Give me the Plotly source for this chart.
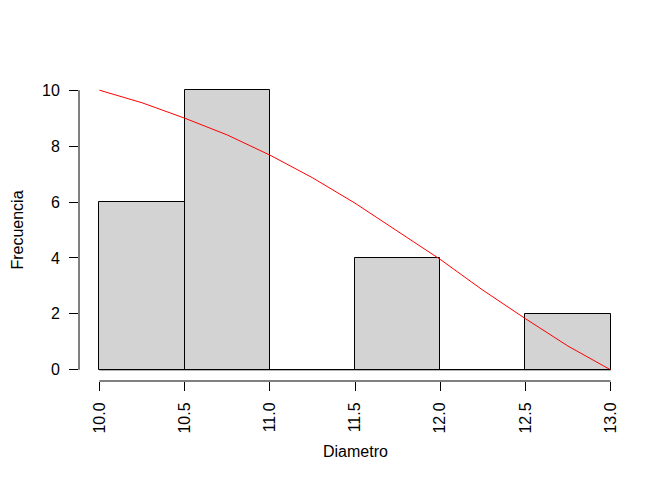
import plotly.graph_objects as go

# histogram of Diametro (bins of 0.5)
bin_edges = [10.0, 10.5, 11.0, 11.5, 12.0, 12.5, 13.0]
frecuencia = [6, 10, 0, 4, 0, 2]

# red curve
curva_x = [10.0, 10.25, 10.5, 10.75, 11.0, 11.25, 11.5, 11.75, 12.0, 12.25, 12.5, 12.75, 13.0]
curva_y = [10.0, 9.55, 9.0, 8.4, 7.68, 6.87, 5.96, 4.95, 3.95, 2.85, 1.83, 0.85, 0.0]

x_ticks = [10.0, 10.5, 11.0, 11.5, 12.0, 12.5, 13.0]
y_ticks = [0, 2, 4, 6, 8, 10]

centros = [(a + b) / 2 for a, b in zip(bin_edges[:-1], bin_edges[1:])]
anchos = [b - a for a, b in zip(bin_edges[:-1], bin_edges[1:])]

fnt = dict(family="Liberation Sans, Arial, sans-serif", size=16, color="black")

fig = go.Figure()
fig.add_trace(go.Bar(x=centros, y=frecuencia, width=anchos,
                     marker=dict(color="#D3D3D3", line=dict(color="black", width=1)),
                     showlegend=False, hoverinfo="skip"))
fig.add_trace(go.Scatter(x=curva_x, y=curva_y, mode="lines",
                         line=dict(color="red", width=1), showlegend=False))

# baseline under the empty bins, like R's hist
fig.add_shape(type="line", xref="x", yref="y", x0=bin_edges[0], x1=bin_edges[-1], y0=0, y1=0,
              line=dict(color="black", width=1))
# R style axis lines, only over the tick range
fig.add_shape(type="line", xref="x", yref="paper", x0=x_ticks[0], x1=x_ticks[-1], y0=0, y1=0,
              line=dict(color="black", width=1))
fig.add_shape(type="line", xref="paper", yref="y", x0=0, x1=0, y0=y_ticks[0], y1=y_ticks[-1],
              line=dict(color="black", width=1))

rx = x_ticks[-1] - x_ticks[0]
ry = y_ticks[-1] - y_ticks[0]
fig.update_xaxes(range=[x_ticks[0] - 0.04 * rx, x_ticks[-1] + 0.04 * rx],
                 tickvals=x_ticks, ticktext=["%.1f" % v for v in x_ticks], tickangle=-90,
                 ticks="outside", ticklen=9, tickcolor="black", tickwidth=1, ticklabelstandoff=5,
                 showgrid=False, zeroline=False, showline=False, tickfont=fnt)
fig.update_yaxes(range=[y_ticks[0] - 0.04 * ry, y_ticks[-1] + 0.04 * ry],
                 tickvals=y_ticks, ticks="outside", ticklen=9, tickcolor="black", tickwidth=1,
                 ticklabelstandoff=6,
                 showgrid=False, zeroline=False, showline=False, tickfont=fnt)

fig.add_annotation(text="Diametro", xref="paper", yref="paper", x=0.5, y=-0.232,
                   showarrow=False, font=fnt, xanchor="center", yanchor="middle")
fig.add_annotation(text="Frecuencia", xref="paper", yref="paper", x=-0.113, y=0.5,
                   showarrow=False, font=fnt, textangle=-90, xanchor="center", yanchor="middle")

# page body has an 8px margin, so the plot area is offset accordingly
fig.update_layout(width=672, height=480, plot_bgcolor="white", paper_bgcolor="white",
                  margin=dict(l=70.5, r=48.5, t=71, b=107), bargap=0)

fig.write_html("out.html")
